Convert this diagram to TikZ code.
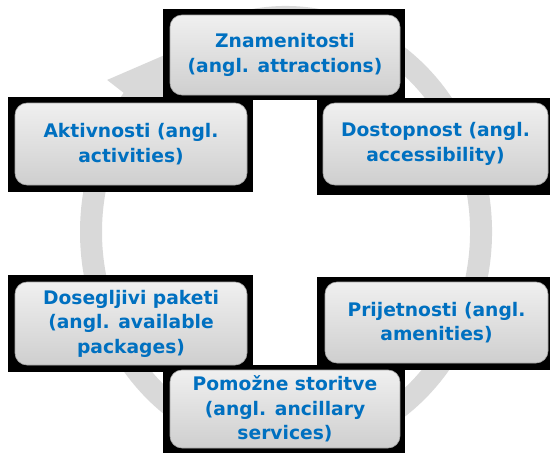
\documentclass[tikz,border=0pt]{standalone}
\usepackage{fontspec}
\setmainfont{DejaVu Sans}
\usetikzlibrary{calc}
\definecolor{textblue}{RGB}{0,112,192}
\definecolor{ringgrey}{RGB}{217,217,217}

\begin{document}
\begin{tikzpicture}[x=1pt,y=-1pt,
    frame/.style={fill=black},
    block/.style={rounded corners=12pt, top color=black!6, bottom color=black!19,
      draw=black!35, line width=0.6pt, text=textblue, align=center,
      font=\bfseries\fontsize{18.7}{24.5}\selectfont, inner sep=0pt},
    ring/.style={line width=22pt, draw=ringgrey}]
  %%%%% START %%%%%
  \useasboundingbox (0,0) rectangle (550,453);

  % cycle arrow behind the blocks
  \coordinate (ctr) at (286,232);
  \draw[ring] ($(ctr)+({195*cos(246)},{215*sin(246)})$)
    arc[start angle=246, end angle=579, x radius=195, y radius=215];
  \fill[ringgrey] ($(ctr)+({163*cos(218)},{183*sin(218)})$)
    -- ($(ctr)+({227*cos(218)},{247*sin(218)})$)
    -- ($(ctr)+({195*cos(242)},{215*sin(242)})$) -- cycle;

  % black frames
  \fill[frame] (163,9) rectangle (405,100);
  \fill[frame] (8,97) rectangle (253,192);
  \fill[frame] (317,98) rectangle (550,195);
  \fill[frame] (8,275) rectangle (253,372);
  \fill[frame] (317,277) rectangle (550,370);
  \fill[frame] (163,365) rectangle (405,453);

  % blocks
  \node[block, minimum width=230pt, minimum height=80pt] (znam) at (285,55)
    {Znamenitosti\\(angl. attractions)};
  \node[block, minimum width=225pt, minimum height=82pt] (dost) at (435.5,144)
    {Dostopnost (angl.\\accessibility)};
  \node[block, minimum width=223pt, minimum height=81pt] (prij) at (436.5,322.5)
    {Prijetnosti (angl.\\amenities)};
  \node[block, minimum width=230pt, minimum height=78pt] (pomo) at (285,409)
    {Pomožne storitve\\(angl. ancillary\\services)};
  \node[block, minimum width=232pt, minimum height=83pt] (dose) at (131,323.5)
    {Dosegljivi paketi\\(angl. available\\packages)};
  \node[block, minimum width=232pt, minimum height=82pt] (aktv) at (131,144)
    {Aktivnosti (angl.\\activities)};
  %%%%% END %%%%%
\end{tikzpicture}
\end{document}
